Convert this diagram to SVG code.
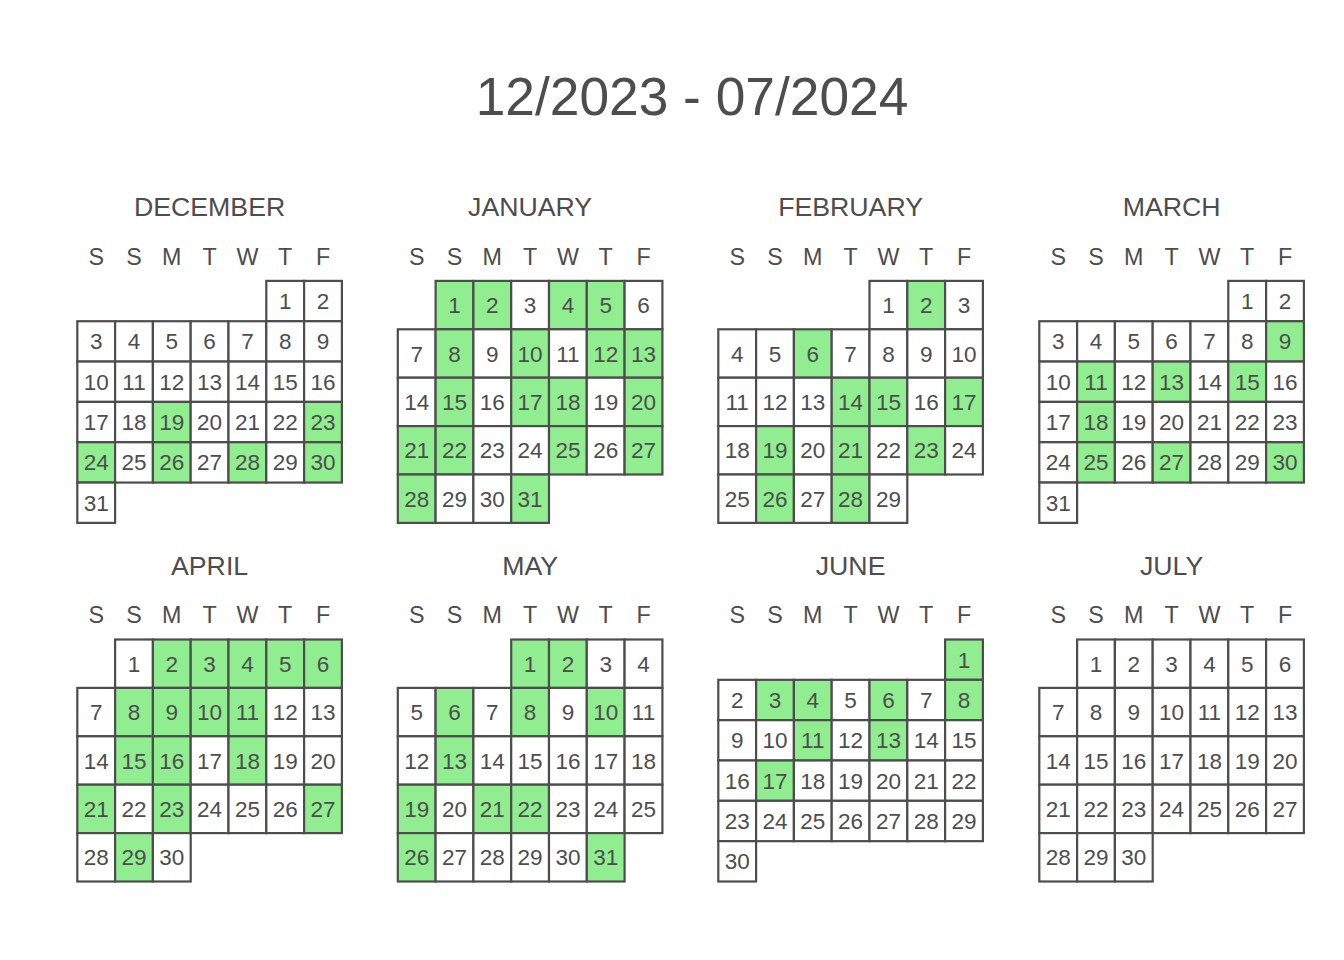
<svg xmlns="http://www.w3.org/2000/svg" width="1344" height="960" viewBox="0 0 1344 960">
<style>
.w{fill:#ffffff;stroke:#4d4d4d;stroke-width:2.2}
.g{fill:#90ee90;stroke:#4d4d4d;stroke-width:2.2}
text{font-family:"Liberation Sans",Arial,Helvetica,sans-serif;fill:#4d4d4d;text-anchor:middle}
.d{font-size:22.5px}
.h{font-size:23.3px}
.m{font-size:26.7px}
.t{font-size:53.3px}
</style>
<rect width="1344" height="960" fill="#ffffff"/>
<text class="t" x="692" y="115">12/2023 - 07/2024</text>

<g id="december" transform="translate(77.3,280.9)">
<text class="m" x="132.3" y="-65">DECEMBER</text>
<g class="h"><text x="18.9" y="-16.4">S</text><text x="56.7" y="-16.4">S</text><text x="94.5" y="-16.4">M</text><text x="132.3" y="-16.4">T</text><text x="170.1" y="-16.4">W</text><text x="207.9" y="-16.4">T</text><text x="245.7" y="-16.4">F</text></g>
<rect class="w" x="189" y="0" width="37.8" height="40.33"/><rect class="w" x="226.8" y="0" width="37.8" height="40.33"/>
<rect class="w" x="0" y="40.33" width="37.8" height="40.33"/><rect class="w" x="37.8" y="40.33" width="37.8" height="40.33"/><rect class="w" x="75.6" y="40.33" width="37.8" height="40.33"/><rect class="w" x="113.4" y="40.33" width="37.8" height="40.33"/><rect class="w" x="151.2" y="40.33" width="37.8" height="40.33"/><rect class="w" x="189" y="40.33" width="37.8" height="40.33"/><rect class="w" x="226.8" y="40.33" width="37.8" height="40.33"/>
<rect class="w" x="0" y="80.67" width="37.8" height="40.33"/><rect class="w" x="37.8" y="80.67" width="37.8" height="40.33"/><rect class="w" x="75.6" y="80.67" width="37.8" height="40.33"/><rect class="w" x="113.4" y="80.67" width="37.8" height="40.33"/><rect class="w" x="151.2" y="80.67" width="37.8" height="40.33"/><rect class="w" x="189" y="80.67" width="37.8" height="40.33"/><rect class="w" x="226.8" y="80.67" width="37.8" height="40.33"/>
<rect class="w" x="0" y="121" width="37.8" height="40.33"/><rect class="w" x="37.8" y="121" width="37.8" height="40.33"/><rect class="g" x="75.6" y="121" width="37.8" height="40.33"/><rect class="w" x="113.4" y="121" width="37.8" height="40.33"/><rect class="w" x="151.2" y="121" width="37.8" height="40.33"/><rect class="w" x="189" y="121" width="37.8" height="40.33"/><rect class="g" x="226.8" y="121" width="37.8" height="40.33"/>
<rect class="g" x="0" y="161.33" width="37.8" height="40.33"/><rect class="w" x="37.8" y="161.33" width="37.8" height="40.33"/><rect class="g" x="75.6" y="161.33" width="37.8" height="40.33"/><rect class="w" x="113.4" y="161.33" width="37.8" height="40.33"/><rect class="g" x="151.2" y="161.33" width="37.8" height="40.33"/><rect class="w" x="189" y="161.33" width="37.8" height="40.33"/><rect class="g" x="226.8" y="161.33" width="37.8" height="40.33"/>
<rect class="w" x="0" y="201.67" width="37.8" height="40.33"/>
<g class="d">
<text x="207.9" y="28.3">1</text><text x="245.7" y="28.3">2</text>
<text x="18.9" y="68.6">3</text><text x="56.7" y="68.6">4</text><text x="94.5" y="68.6">5</text><text x="132.3" y="68.6">6</text><text x="170.1" y="68.6">7</text><text x="207.9" y="68.6">8</text><text x="245.7" y="68.6">9</text>
<text x="18.9" y="108.9">10</text><text x="56.7" y="108.9">11</text><text x="94.5" y="108.9">12</text><text x="132.3" y="108.9">13</text><text x="170.1" y="108.9">14</text><text x="207.9" y="108.9">15</text><text x="245.7" y="108.9">16</text>
<text x="18.9" y="149.3">17</text><text x="56.7" y="149.3">18</text><text x="94.5" y="149.3">19</text><text x="132.3" y="149.3">20</text><text x="170.1" y="149.3">21</text><text x="207.9" y="149.3">22</text><text x="245.7" y="149.3">23</text>
<text x="18.9" y="189.6">24</text><text x="56.7" y="189.6">25</text><text x="94.5" y="189.6">26</text><text x="132.3" y="189.6">27</text><text x="170.1" y="189.6">28</text><text x="207.9" y="189.6">29</text><text x="245.7" y="189.6">30</text>
<text x="18.9" y="229.9">31</text>
</g>
</g>

<g id="january" transform="translate(397.8,280.9)">
<text class="m" x="132.3" y="-65">JANUARY</text>
<g class="h"><text x="18.9" y="-16.4">S</text><text x="56.7" y="-16.4">S</text><text x="94.5" y="-16.4">M</text><text x="132.3" y="-16.4">T</text><text x="170.1" y="-16.4">W</text><text x="207.9" y="-16.4">T</text><text x="245.7" y="-16.4">F</text></g>
<rect class="g" x="37.8" y="0" width="37.8" height="48.4"/><rect class="g" x="75.6" y="0" width="37.8" height="48.4"/><rect class="w" x="113.4" y="0" width="37.8" height="48.4"/><rect class="g" x="151.2" y="0" width="37.8" height="48.4"/><rect class="g" x="189" y="0" width="37.8" height="48.4"/><rect class="w" x="226.8" y="0" width="37.8" height="48.4"/>
<rect class="w" x="0" y="48.4" width="37.8" height="48.4"/><rect class="g" x="37.8" y="48.4" width="37.8" height="48.4"/><rect class="w" x="75.6" y="48.4" width="37.8" height="48.4"/><rect class="g" x="113.4" y="48.4" width="37.8" height="48.4"/><rect class="w" x="151.2" y="48.4" width="37.8" height="48.4"/><rect class="g" x="189" y="48.4" width="37.8" height="48.4"/><rect class="g" x="226.8" y="48.4" width="37.8" height="48.4"/>
<rect class="w" x="0" y="96.8" width="37.8" height="48.4"/><rect class="g" x="37.8" y="96.8" width="37.8" height="48.4"/><rect class="w" x="75.6" y="96.8" width="37.8" height="48.4"/><rect class="g" x="113.4" y="96.8" width="37.8" height="48.4"/><rect class="g" x="151.2" y="96.8" width="37.8" height="48.4"/><rect class="w" x="189" y="96.8" width="37.8" height="48.4"/><rect class="g" x="226.8" y="96.8" width="37.8" height="48.4"/>
<rect class="g" x="0" y="145.2" width="37.8" height="48.4"/><rect class="g" x="37.8" y="145.2" width="37.8" height="48.4"/><rect class="w" x="75.6" y="145.2" width="37.8" height="48.4"/><rect class="w" x="113.4" y="145.2" width="37.8" height="48.4"/><rect class="g" x="151.2" y="145.2" width="37.8" height="48.4"/><rect class="w" x="189" y="145.2" width="37.8" height="48.4"/><rect class="g" x="226.8" y="145.2" width="37.8" height="48.4"/>
<rect class="g" x="0" y="193.6" width="37.8" height="48.4"/><rect class="w" x="37.8" y="193.6" width="37.8" height="48.4"/><rect class="w" x="75.6" y="193.6" width="37.8" height="48.4"/><rect class="g" x="113.4" y="193.6" width="37.8" height="48.4"/>
<g class="d">
<text x="56.7" y="32.3">1</text><text x="94.5" y="32.3">2</text><text x="132.3" y="32.3">3</text><text x="170.1" y="32.3">4</text><text x="207.9" y="32.3">5</text><text x="245.7" y="32.3">6</text>
<text x="18.9" y="80.7">7</text><text x="56.7" y="80.7">8</text><text x="94.5" y="80.7">9</text><text x="132.3" y="80.7">10</text><text x="170.1" y="80.7">11</text><text x="207.9" y="80.7">12</text><text x="245.7" y="80.7">13</text>
<text x="18.9" y="129.1">14</text><text x="56.7" y="129.1">15</text><text x="94.5" y="129.1">16</text><text x="132.3" y="129.1">17</text><text x="170.1" y="129.1">18</text><text x="207.9" y="129.1">19</text><text x="245.7" y="129.1">20</text>
<text x="18.9" y="177.5">21</text><text x="56.7" y="177.5">22</text><text x="94.5" y="177.5">23</text><text x="132.3" y="177.5">24</text><text x="170.1" y="177.5">25</text><text x="207.9" y="177.5">26</text><text x="245.7" y="177.5">27</text>
<text x="18.9" y="225.9">28</text><text x="56.7" y="225.9">29</text><text x="94.5" y="225.9">30</text><text x="132.3" y="225.9">31</text>
</g>
</g>

<g id="february" transform="translate(718.3,280.9)">
<text class="m" x="132.3" y="-65">FEBRUARY</text>
<g class="h"><text x="18.9" y="-16.4">S</text><text x="56.7" y="-16.4">S</text><text x="94.5" y="-16.4">M</text><text x="132.3" y="-16.4">T</text><text x="170.1" y="-16.4">W</text><text x="207.9" y="-16.4">T</text><text x="245.7" y="-16.4">F</text></g>
<rect class="w" x="151.2" y="0" width="37.8" height="48.4"/><rect class="g" x="189" y="0" width="37.8" height="48.4"/><rect class="w" x="226.8" y="0" width="37.8" height="48.4"/>
<rect class="w" x="0" y="48.4" width="37.8" height="48.4"/><rect class="w" x="37.8" y="48.4" width="37.8" height="48.4"/><rect class="g" x="75.6" y="48.4" width="37.8" height="48.4"/><rect class="w" x="113.4" y="48.4" width="37.8" height="48.4"/><rect class="w" x="151.2" y="48.4" width="37.8" height="48.4"/><rect class="w" x="189" y="48.4" width="37.8" height="48.4"/><rect class="w" x="226.8" y="48.4" width="37.8" height="48.4"/>
<rect class="w" x="0" y="96.8" width="37.8" height="48.4"/><rect class="w" x="37.8" y="96.8" width="37.8" height="48.4"/><rect class="w" x="75.6" y="96.8" width="37.8" height="48.4"/><rect class="g" x="113.4" y="96.8" width="37.8" height="48.4"/><rect class="g" x="151.2" y="96.8" width="37.8" height="48.4"/><rect class="w" x="189" y="96.8" width="37.8" height="48.4"/><rect class="g" x="226.8" y="96.8" width="37.8" height="48.4"/>
<rect class="w" x="0" y="145.2" width="37.8" height="48.4"/><rect class="g" x="37.8" y="145.2" width="37.8" height="48.4"/><rect class="w" x="75.6" y="145.2" width="37.8" height="48.4"/><rect class="g" x="113.4" y="145.2" width="37.8" height="48.4"/><rect class="w" x="151.2" y="145.2" width="37.8" height="48.4"/><rect class="g" x="189" y="145.2" width="37.8" height="48.4"/><rect class="w" x="226.8" y="145.2" width="37.8" height="48.4"/>
<rect class="w" x="0" y="193.6" width="37.8" height="48.4"/><rect class="g" x="37.8" y="193.6" width="37.8" height="48.4"/><rect class="w" x="75.6" y="193.6" width="37.8" height="48.4"/><rect class="g" x="113.4" y="193.6" width="37.8" height="48.4"/><rect class="w" x="151.2" y="193.6" width="37.8" height="48.4"/>
<g class="d">
<text x="170.1" y="32.3">1</text><text x="207.9" y="32.3">2</text><text x="245.7" y="32.3">3</text>
<text x="18.9" y="80.7">4</text><text x="56.7" y="80.7">5</text><text x="94.5" y="80.7">6</text><text x="132.3" y="80.7">7</text><text x="170.1" y="80.7">8</text><text x="207.9" y="80.7">9</text><text x="245.7" y="80.7">10</text>
<text x="18.9" y="129.1">11</text><text x="56.7" y="129.1">12</text><text x="94.5" y="129.1">13</text><text x="132.3" y="129.1">14</text><text x="170.1" y="129.1">15</text><text x="207.9" y="129.1">16</text><text x="245.7" y="129.1">17</text>
<text x="18.9" y="177.5">18</text><text x="56.7" y="177.5">19</text><text x="94.5" y="177.5">20</text><text x="132.3" y="177.5">21</text><text x="170.1" y="177.5">22</text><text x="207.9" y="177.5">23</text><text x="245.7" y="177.5">24</text>
<text x="18.9" y="225.9">25</text><text x="56.7" y="225.9">26</text><text x="94.5" y="225.9">27</text><text x="132.3" y="225.9">28</text><text x="170.1" y="225.9">29</text>
</g>
</g>

<g id="march" transform="translate(1039.3,280.9)">
<text class="m" x="132.3" y="-65">MARCH</text>
<g class="h"><text x="18.9" y="-16.4">S</text><text x="56.7" y="-16.4">S</text><text x="94.5" y="-16.4">M</text><text x="132.3" y="-16.4">T</text><text x="170.1" y="-16.4">W</text><text x="207.9" y="-16.4">T</text><text x="245.7" y="-16.4">F</text></g>
<rect class="w" x="189" y="0" width="37.8" height="40.33"/><rect class="w" x="226.8" y="0" width="37.8" height="40.33"/>
<rect class="w" x="0" y="40.33" width="37.8" height="40.33"/><rect class="w" x="37.8" y="40.33" width="37.8" height="40.33"/><rect class="w" x="75.6" y="40.33" width="37.8" height="40.33"/><rect class="w" x="113.4" y="40.33" width="37.8" height="40.33"/><rect class="w" x="151.2" y="40.33" width="37.8" height="40.33"/><rect class="w" x="189" y="40.33" width="37.8" height="40.33"/><rect class="g" x="226.8" y="40.33" width="37.8" height="40.33"/>
<rect class="w" x="0" y="80.67" width="37.8" height="40.33"/><rect class="g" x="37.8" y="80.67" width="37.8" height="40.33"/><rect class="w" x="75.6" y="80.67" width="37.8" height="40.33"/><rect class="g" x="113.4" y="80.67" width="37.8" height="40.33"/><rect class="w" x="151.2" y="80.67" width="37.8" height="40.33"/><rect class="g" x="189" y="80.67" width="37.8" height="40.33"/><rect class="w" x="226.8" y="80.67" width="37.8" height="40.33"/>
<rect class="w" x="0" y="121" width="37.8" height="40.33"/><rect class="g" x="37.8" y="121" width="37.8" height="40.33"/><rect class="w" x="75.6" y="121" width="37.8" height="40.33"/><rect class="w" x="113.4" y="121" width="37.8" height="40.33"/><rect class="w" x="151.2" y="121" width="37.8" height="40.33"/><rect class="w" x="189" y="121" width="37.8" height="40.33"/><rect class="w" x="226.8" y="121" width="37.8" height="40.33"/>
<rect class="w" x="0" y="161.33" width="37.8" height="40.33"/><rect class="g" x="37.8" y="161.33" width="37.8" height="40.33"/><rect class="w" x="75.6" y="161.33" width="37.8" height="40.33"/><rect class="g" x="113.4" y="161.33" width="37.8" height="40.33"/><rect class="w" x="151.2" y="161.33" width="37.8" height="40.33"/><rect class="w" x="189" y="161.33" width="37.8" height="40.33"/><rect class="g" x="226.8" y="161.33" width="37.8" height="40.33"/>
<rect class="w" x="0" y="201.67" width="37.8" height="40.33"/>
<g class="d">
<text x="207.9" y="28.3">1</text><text x="245.7" y="28.3">2</text>
<text x="18.9" y="68.6">3</text><text x="56.7" y="68.6">4</text><text x="94.5" y="68.6">5</text><text x="132.3" y="68.6">6</text><text x="170.1" y="68.6">7</text><text x="207.9" y="68.6">8</text><text x="245.7" y="68.6">9</text>
<text x="18.9" y="108.9">10</text><text x="56.7" y="108.9">11</text><text x="94.5" y="108.9">12</text><text x="132.3" y="108.9">13</text><text x="170.1" y="108.9">14</text><text x="207.9" y="108.9">15</text><text x="245.7" y="108.9">16</text>
<text x="18.9" y="149.3">17</text><text x="56.7" y="149.3">18</text><text x="94.5" y="149.3">19</text><text x="132.3" y="149.3">20</text><text x="170.1" y="149.3">21</text><text x="207.9" y="149.3">22</text><text x="245.7" y="149.3">23</text>
<text x="18.9" y="189.6">24</text><text x="56.7" y="189.6">25</text><text x="94.5" y="189.6">26</text><text x="132.3" y="189.6">27</text><text x="170.1" y="189.6">28</text><text x="207.9" y="189.6">29</text><text x="245.7" y="189.6">30</text>
<text x="18.9" y="229.9">31</text>
</g>
</g>

<g id="april" transform="translate(77.3,639.5)">
<text class="m" x="132.3" y="-65">APRIL</text>
<g class="h"><text x="18.9" y="-16.4">S</text><text x="56.7" y="-16.4">S</text><text x="94.5" y="-16.4">M</text><text x="132.3" y="-16.4">T</text><text x="170.1" y="-16.4">W</text><text x="207.9" y="-16.4">T</text><text x="245.7" y="-16.4">F</text></g>
<rect class="w" x="37.8" y="0" width="37.8" height="48.4"/><rect class="g" x="75.6" y="0" width="37.8" height="48.4"/><rect class="g" x="113.4" y="0" width="37.8" height="48.4"/><rect class="g" x="151.2" y="0" width="37.8" height="48.4"/><rect class="g" x="189" y="0" width="37.8" height="48.4"/><rect class="g" x="226.8" y="0" width="37.8" height="48.4"/>
<rect class="w" x="0" y="48.4" width="37.8" height="48.4"/><rect class="g" x="37.8" y="48.4" width="37.8" height="48.4"/><rect class="g" x="75.6" y="48.4" width="37.8" height="48.4"/><rect class="g" x="113.4" y="48.4" width="37.8" height="48.4"/><rect class="g" x="151.2" y="48.4" width="37.8" height="48.4"/><rect class="w" x="189" y="48.4" width="37.8" height="48.4"/><rect class="w" x="226.8" y="48.4" width="37.8" height="48.4"/>
<rect class="w" x="0" y="96.8" width="37.8" height="48.4"/><rect class="g" x="37.8" y="96.8" width="37.8" height="48.4"/><rect class="g" x="75.6" y="96.8" width="37.8" height="48.4"/><rect class="w" x="113.4" y="96.8" width="37.8" height="48.4"/><rect class="g" x="151.2" y="96.8" width="37.8" height="48.4"/><rect class="w" x="189" y="96.8" width="37.8" height="48.4"/><rect class="w" x="226.8" y="96.8" width="37.8" height="48.4"/>
<rect class="g" x="0" y="145.2" width="37.8" height="48.4"/><rect class="w" x="37.8" y="145.2" width="37.8" height="48.4"/><rect class="g" x="75.6" y="145.2" width="37.8" height="48.4"/><rect class="w" x="113.4" y="145.2" width="37.8" height="48.4"/><rect class="w" x="151.2" y="145.2" width="37.8" height="48.4"/><rect class="w" x="189" y="145.2" width="37.8" height="48.4"/><rect class="g" x="226.8" y="145.2" width="37.8" height="48.4"/>
<rect class="w" x="0" y="193.6" width="37.8" height="48.4"/><rect class="g" x="37.8" y="193.6" width="37.8" height="48.4"/><rect class="w" x="75.6" y="193.6" width="37.8" height="48.4"/>
<g class="d">
<text x="56.7" y="32.3">1</text><text x="94.5" y="32.3">2</text><text x="132.3" y="32.3">3</text><text x="170.1" y="32.3">4</text><text x="207.9" y="32.3">5</text><text x="245.7" y="32.3">6</text>
<text x="18.9" y="80.7">7</text><text x="56.7" y="80.7">8</text><text x="94.5" y="80.7">9</text><text x="132.3" y="80.7">10</text><text x="170.1" y="80.7">11</text><text x="207.9" y="80.7">12</text><text x="245.7" y="80.7">13</text>
<text x="18.9" y="129.1">14</text><text x="56.7" y="129.1">15</text><text x="94.5" y="129.1">16</text><text x="132.3" y="129.1">17</text><text x="170.1" y="129.1">18</text><text x="207.9" y="129.1">19</text><text x="245.7" y="129.1">20</text>
<text x="18.9" y="177.5">21</text><text x="56.7" y="177.5">22</text><text x="94.5" y="177.5">23</text><text x="132.3" y="177.5">24</text><text x="170.1" y="177.5">25</text><text x="207.9" y="177.5">26</text><text x="245.7" y="177.5">27</text>
<text x="18.9" y="225.9">28</text><text x="56.7" y="225.9">29</text><text x="94.5" y="225.9">30</text>
</g>
</g>

<g id="may" transform="translate(397.8,639.5)">
<text class="m" x="132.3" y="-65">MAY</text>
<g class="h"><text x="18.9" y="-16.4">S</text><text x="56.7" y="-16.4">S</text><text x="94.5" y="-16.4">M</text><text x="132.3" y="-16.4">T</text><text x="170.1" y="-16.4">W</text><text x="207.9" y="-16.4">T</text><text x="245.7" y="-16.4">F</text></g>
<rect class="g" x="113.4" y="0" width="37.8" height="48.4"/><rect class="g" x="151.2" y="0" width="37.8" height="48.4"/><rect class="w" x="189" y="0" width="37.8" height="48.4"/><rect class="w" x="226.8" y="0" width="37.8" height="48.4"/>
<rect class="w" x="0" y="48.4" width="37.8" height="48.4"/><rect class="g" x="37.8" y="48.4" width="37.8" height="48.4"/><rect class="w" x="75.6" y="48.4" width="37.8" height="48.4"/><rect class="g" x="113.4" y="48.4" width="37.8" height="48.4"/><rect class="w" x="151.2" y="48.4" width="37.8" height="48.4"/><rect class="g" x="189" y="48.4" width="37.8" height="48.4"/><rect class="w" x="226.8" y="48.4" width="37.8" height="48.4"/>
<rect class="w" x="0" y="96.8" width="37.8" height="48.4"/><rect class="g" x="37.8" y="96.8" width="37.8" height="48.4"/><rect class="w" x="75.6" y="96.8" width="37.8" height="48.4"/><rect class="w" x="113.4" y="96.8" width="37.8" height="48.4"/><rect class="w" x="151.2" y="96.8" width="37.8" height="48.4"/><rect class="w" x="189" y="96.8" width="37.8" height="48.4"/><rect class="w" x="226.8" y="96.8" width="37.8" height="48.4"/>
<rect class="g" x="0" y="145.2" width="37.8" height="48.4"/><rect class="w" x="37.8" y="145.2" width="37.8" height="48.4"/><rect class="g" x="75.6" y="145.2" width="37.8" height="48.4"/><rect class="g" x="113.4" y="145.2" width="37.8" height="48.4"/><rect class="w" x="151.2" y="145.2" width="37.8" height="48.4"/><rect class="w" x="189" y="145.2" width="37.8" height="48.4"/><rect class="w" x="226.8" y="145.2" width="37.8" height="48.4"/>
<rect class="g" x="0" y="193.6" width="37.8" height="48.4"/><rect class="w" x="37.8" y="193.6" width="37.8" height="48.4"/><rect class="w" x="75.6" y="193.6" width="37.8" height="48.4"/><rect class="w" x="113.4" y="193.6" width="37.8" height="48.4"/><rect class="w" x="151.2" y="193.6" width="37.8" height="48.4"/><rect class="g" x="189" y="193.6" width="37.8" height="48.4"/>
<g class="d">
<text x="132.3" y="32.3">1</text><text x="170.1" y="32.3">2</text><text x="207.9" y="32.3">3</text><text x="245.7" y="32.3">4</text>
<text x="18.9" y="80.7">5</text><text x="56.7" y="80.7">6</text><text x="94.5" y="80.7">7</text><text x="132.3" y="80.7">8</text><text x="170.1" y="80.7">9</text><text x="207.9" y="80.7">10</text><text x="245.7" y="80.7">11</text>
<text x="18.9" y="129.1">12</text><text x="56.7" y="129.1">13</text><text x="94.5" y="129.1">14</text><text x="132.3" y="129.1">15</text><text x="170.1" y="129.1">16</text><text x="207.9" y="129.1">17</text><text x="245.7" y="129.1">18</text>
<text x="18.9" y="177.5">19</text><text x="56.7" y="177.5">20</text><text x="94.5" y="177.5">21</text><text x="132.3" y="177.5">22</text><text x="170.1" y="177.5">23</text><text x="207.9" y="177.5">24</text><text x="245.7" y="177.5">25</text>
<text x="18.9" y="225.9">26</text><text x="56.7" y="225.9">27</text><text x="94.5" y="225.9">28</text><text x="132.3" y="225.9">29</text><text x="170.1" y="225.9">30</text><text x="207.9" y="225.9">31</text>
</g>
</g>

<g id="june" transform="translate(718.3,639.5)">
<text class="m" x="132.3" y="-65">JUNE</text>
<g class="h"><text x="18.9" y="-16.4">S</text><text x="56.7" y="-16.4">S</text><text x="94.5" y="-16.4">M</text><text x="132.3" y="-16.4">T</text><text x="170.1" y="-16.4">W</text><text x="207.9" y="-16.4">T</text><text x="245.7" y="-16.4">F</text></g>
<rect class="g" x="226.8" y="0" width="37.8" height="40.33"/>
<rect class="w" x="0" y="40.33" width="37.8" height="40.33"/><rect class="g" x="37.8" y="40.33" width="37.8" height="40.33"/><rect class="g" x="75.6" y="40.33" width="37.8" height="40.33"/><rect class="w" x="113.4" y="40.33" width="37.8" height="40.33"/><rect class="g" x="151.2" y="40.33" width="37.8" height="40.33"/><rect class="w" x="189" y="40.33" width="37.8" height="40.33"/><rect class="g" x="226.8" y="40.33" width="37.8" height="40.33"/>
<rect class="w" x="0" y="80.67" width="37.8" height="40.33"/><rect class="w" x="37.8" y="80.67" width="37.8" height="40.33"/><rect class="g" x="75.6" y="80.67" width="37.8" height="40.33"/><rect class="w" x="113.4" y="80.67" width="37.8" height="40.33"/><rect class="g" x="151.2" y="80.67" width="37.8" height="40.33"/><rect class="w" x="189" y="80.67" width="37.8" height="40.33"/><rect class="w" x="226.8" y="80.67" width="37.8" height="40.33"/>
<rect class="w" x="0" y="121" width="37.8" height="40.33"/><rect class="g" x="37.8" y="121" width="37.8" height="40.33"/><rect class="w" x="75.6" y="121" width="37.8" height="40.33"/><rect class="w" x="113.4" y="121" width="37.8" height="40.33"/><rect class="w" x="151.2" y="121" width="37.8" height="40.33"/><rect class="w" x="189" y="121" width="37.8" height="40.33"/><rect class="w" x="226.8" y="121" width="37.8" height="40.33"/>
<rect class="w" x="0" y="161.33" width="37.8" height="40.33"/><rect class="w" x="37.8" y="161.33" width="37.8" height="40.33"/><rect class="w" x="75.6" y="161.33" width="37.8" height="40.33"/><rect class="w" x="113.4" y="161.33" width="37.8" height="40.33"/><rect class="w" x="151.2" y="161.33" width="37.8" height="40.33"/><rect class="w" x="189" y="161.33" width="37.8" height="40.33"/><rect class="w" x="226.8" y="161.33" width="37.8" height="40.33"/>
<rect class="w" x="0" y="201.67" width="37.8" height="40.33"/>
<g class="d">
<text x="245.7" y="28.3">1</text>
<text x="18.9" y="68.6">2</text><text x="56.7" y="68.6">3</text><text x="94.5" y="68.6">4</text><text x="132.3" y="68.6">5</text><text x="170.1" y="68.6">6</text><text x="207.9" y="68.6">7</text><text x="245.7" y="68.6">8</text>
<text x="18.9" y="108.9">9</text><text x="56.7" y="108.9">10</text><text x="94.5" y="108.9">11</text><text x="132.3" y="108.9">12</text><text x="170.1" y="108.9">13</text><text x="207.9" y="108.9">14</text><text x="245.7" y="108.9">15</text>
<text x="18.9" y="149.3">16</text><text x="56.7" y="149.3">17</text><text x="94.5" y="149.3">18</text><text x="132.3" y="149.3">19</text><text x="170.1" y="149.3">20</text><text x="207.9" y="149.3">21</text><text x="245.7" y="149.3">22</text>
<text x="18.9" y="189.6">23</text><text x="56.7" y="189.6">24</text><text x="94.5" y="189.6">25</text><text x="132.3" y="189.6">26</text><text x="170.1" y="189.6">27</text><text x="207.9" y="189.6">28</text><text x="245.7" y="189.6">29</text>
<text x="18.9" y="229.9">30</text>
</g>
</g>

<g id="july" transform="translate(1039.3,639.5)">
<text class="m" x="132.3" y="-65">JULY</text>
<g class="h"><text x="18.9" y="-16.4">S</text><text x="56.7" y="-16.4">S</text><text x="94.5" y="-16.4">M</text><text x="132.3" y="-16.4">T</text><text x="170.1" y="-16.4">W</text><text x="207.9" y="-16.4">T</text><text x="245.7" y="-16.4">F</text></g>
<rect class="w" x="37.8" y="0" width="37.8" height="48.4"/><rect class="w" x="75.6" y="0" width="37.8" height="48.4"/><rect class="w" x="113.4" y="0" width="37.8" height="48.4"/><rect class="w" x="151.2" y="0" width="37.8" height="48.4"/><rect class="w" x="189" y="0" width="37.8" height="48.4"/><rect class="w" x="226.8" y="0" width="37.8" height="48.4"/>
<rect class="w" x="0" y="48.4" width="37.8" height="48.4"/><rect class="w" x="37.8" y="48.4" width="37.8" height="48.4"/><rect class="w" x="75.6" y="48.4" width="37.8" height="48.4"/><rect class="w" x="113.4" y="48.4" width="37.8" height="48.4"/><rect class="w" x="151.2" y="48.4" width="37.8" height="48.4"/><rect class="w" x="189" y="48.4" width="37.8" height="48.4"/><rect class="w" x="226.8" y="48.4" width="37.8" height="48.4"/>
<rect class="w" x="0" y="96.8" width="37.8" height="48.4"/><rect class="w" x="37.8" y="96.8" width="37.8" height="48.4"/><rect class="w" x="75.6" y="96.8" width="37.8" height="48.4"/><rect class="w" x="113.4" y="96.8" width="37.8" height="48.4"/><rect class="w" x="151.2" y="96.8" width="37.8" height="48.4"/><rect class="w" x="189" y="96.8" width="37.8" height="48.4"/><rect class="w" x="226.8" y="96.8" width="37.8" height="48.4"/>
<rect class="w" x="0" y="145.2" width="37.8" height="48.4"/><rect class="w" x="37.8" y="145.2" width="37.8" height="48.4"/><rect class="w" x="75.6" y="145.2" width="37.8" height="48.4"/><rect class="w" x="113.4" y="145.2" width="37.8" height="48.4"/><rect class="w" x="151.2" y="145.2" width="37.8" height="48.4"/><rect class="w" x="189" y="145.2" width="37.8" height="48.4"/><rect class="w" x="226.8" y="145.2" width="37.8" height="48.4"/>
<rect class="w" x="0" y="193.6" width="37.8" height="48.4"/><rect class="w" x="37.8" y="193.6" width="37.8" height="48.4"/><rect class="w" x="75.6" y="193.6" width="37.8" height="48.4"/>
<g class="d">
<text x="56.7" y="32.3">1</text><text x="94.5" y="32.3">2</text><text x="132.3" y="32.3">3</text><text x="170.1" y="32.3">4</text><text x="207.9" y="32.3">5</text><text x="245.7" y="32.3">6</text>
<text x="18.9" y="80.7">7</text><text x="56.7" y="80.7">8</text><text x="94.5" y="80.7">9</text><text x="132.3" y="80.7">10</text><text x="170.1" y="80.7">11</text><text x="207.9" y="80.7">12</text><text x="245.7" y="80.7">13</text>
<text x="18.9" y="129.1">14</text><text x="56.7" y="129.1">15</text><text x="94.5" y="129.1">16</text><text x="132.3" y="129.1">17</text><text x="170.1" y="129.1">18</text><text x="207.9" y="129.1">19</text><text x="245.7" y="129.1">20</text>
<text x="18.9" y="177.5">21</text><text x="56.7" y="177.5">22</text><text x="94.5" y="177.5">23</text><text x="132.3" y="177.5">24</text><text x="170.1" y="177.5">25</text><text x="207.9" y="177.5">26</text><text x="245.7" y="177.5">27</text>
<text x="18.9" y="225.9">28</text><text x="56.7" y="225.9">29</text><text x="94.5" y="225.9">30</text>
</g>
</g>
</svg>
